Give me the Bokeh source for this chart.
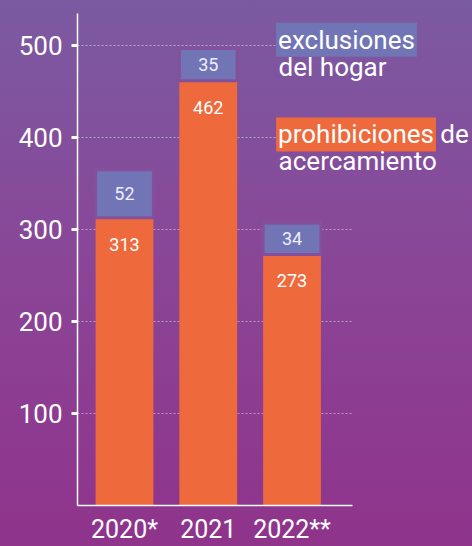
from bokeh.plotting import figure
from bokeh.models import Range1d, FixedTicker, Label, ColumnDataSource
from bokeh.core.properties import value
from bokeh.embed import file_html
from bokeh.resources import INLINE

# ---- data ----
years = ["2020*", "2021", "2022**"]
prohibiciones = [313, 462, 273]
exclusiones = [52, 35, 34]
y_ticks = [100, 200, 300, 400, 500]

xpos = list(range(len(years)))
FONT = "Roboto"
ORANGE = "#ee6a3c"
BLUE = "#7275b5"
X0, X_AXIS_END, X1 = -0.561, 2.722, 4.155

src = ColumnDataSource(dict(
    x=xpos,
    prohib=prohibiciones,
    excl=exclusiones,
    total=[a + b for a, b in zip(prohibiciones, exclusiones)],
    mid=[a + b / 2 for a, b in zip(prohibiciones, exclusiones)],
    prohib_txt=[str(v) for v in prohibiciones],
    excl_txt=[str(v) for v in exclusiones],
))

p = figure(width=472, height=546, output_backend="svg", toolbar_location=None,
           x_range=Range1d(X0, X1), y_range=Range1d(0, 535),
           min_border_left=77, min_border_right=0, min_border_top=13,
           min_border_bottom=34)
p.styles = {"background": "linear-gradient(180deg, #7b5aa1 0%, #8a4597 50%, #8f338b 100%)"}
p.background_fill_color = None
p.border_fill_color = None
p.outline_line_color = None

# axes / grid
p.xgrid.grid_line_color = None
p.ygrid.ticker = FixedTicker(ticks=y_ticks)
p.ygrid.grid_line_color = "white"
p.ygrid.grid_line_alpha = 0.45
p.ygrid.grid_line_dash = "2 2"
p.ygrid.grid_line_width = 1
try:
    p.ygrid.cross_bounds = (X0, X_AXIS_END)
except Exception:
    pass

p.vbar(x="x", width=0.69, bottom=0, top="prohib", source=src,
       fill_color=ORANGE, line_color=None)
p.vbar(x="x", width=0.69, bottom="prohib", top="total", source=src,
       fill_color=BLUE, line_color="#84509c", line_width=3)

p.text(x="x", y="prohib", text="prohib_txt", source=src, text_align="center",
       text_baseline="top", y_offset=20, text_color="white",
       text_font=value(FONT), text_font_size="18px")
p.text(x="x", y="mid", text="excl_txt", source=src, text_align="center",
       text_baseline="middle", text_color="#eeeeff",
       text_font=value(FONT), text_font_size="18px")

p.yaxis.ticker = FixedTicker(ticks=y_ticks)
p.yaxis.axis_line_color = "white"
p.yaxis.axis_line_width = 1.5
p.yaxis.major_tick_line_color = "white"
p.yaxis.major_tick_line_width = 3
p.yaxis.major_tick_out = 6
p.yaxis.major_tick_in = 0
p.yaxis.minor_tick_line_color = None
p.yaxis.major_label_text_color = "white"
p.yaxis.major_label_text_font = FONT
p.yaxis.major_label_text_font_size = "26px"
p.yaxis.major_label_standoff = 9

p.xaxis.ticker = FixedTicker(ticks=xpos)
p.xaxis.bounds = (X0, X_AXIS_END)
p.xaxis.major_label_overrides = {i: y for i, y in zip(xpos, years)}
p.xaxis.axis_line_color = "white"
p.xaxis.axis_line_width = 1.5
p.xaxis.major_tick_line_color = None
p.xaxis.minor_tick_line_color = None
p.xaxis.major_label_text_color = "white"
p.xaxis.major_label_text_font = FONT
p.xaxis.major_label_text_font_size = "25px"
p.xaxis.major_label_standoff = 3

# legend-like labels
def lab(text, x, y, bg=None):
    kw = dict(x=x, y=y, text=text, text_color="white", text_font=FONT,
              text_font_size="26px", text_baseline="alphabetic", text_align="left")
    if bg:
        kw.update(background_fill_color=bg, padding=2)
    p.add_layout(Label(**kw))

lab("exclusiones", 1.81, 506.5, BLUE)
lab("del hogar", 1.84, 477)
lab("prohibiciones", 1.81, 403.5, ORANGE)
lab("de", 3.77, 403.5)
lab("acercamiento", 1.84, 375)

open("out.html", "w").write(file_html(p, INLINE))
